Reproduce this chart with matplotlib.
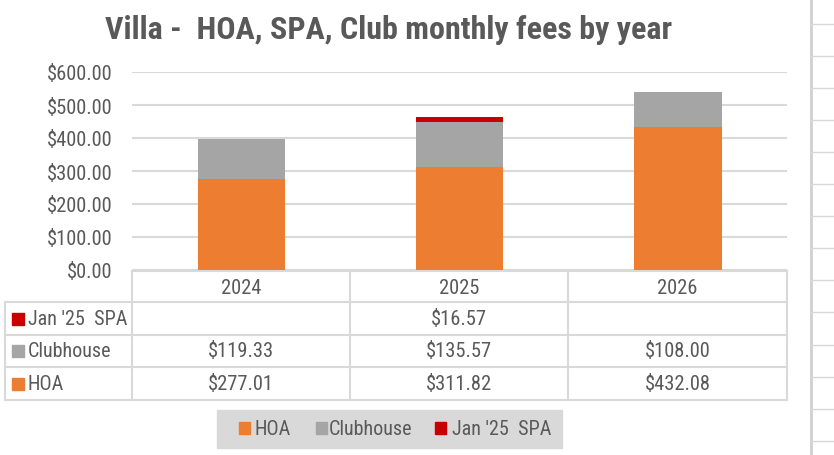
import matplotlib
matplotlib.use("Agg")
import matplotlib.pyplot as plt
from matplotlib.patches import Rectangle

plt.rcParams['font.family'] = ['Roboto Condensed', 'Lato', 'DejaVu Sans']

years = ['2024', '2025', '2026']
hoa = [277.01, 311.82, 432.08]
clubhouse = [119.33, 135.57, 108.00]
spa = [0, 16.57, 0]
spa_labels = ['', '$16.57', '']
club_labels = ['$119.33', '$135.57', '$108.00']
hoa_labels = ['$277.01', '$311.82', '$432.08']
series_names = ["Jan '25  SPA", 'Clubhouse', 'HOA']
yticks = [0, 100, 200, 300, 400, 500, 600]

ORANGE = '#ED7D31'
GRAY = '#A5A5A5'
RED = '#C80000'
TEXT = '#595959'
LINE = '#D9D9D9'
NUM_FS = 14.8
WORD_FS = 14.5

W, H = 834, 456
fig = plt.figure(figsize=(W / 100, H / 100), dpi=100)

# overlay in pixel coordinates for table, legend and sheet grid
ov = fig.add_axes([0, 0, 1, 1])
ov.set_xlim(0, W)
ov.set_ylim(H, 0)
ov.axis('off')

# plot area
left, right, top, bottom = 132, 787, 73, 271
ax = fig.add_axes([left / W, 1 - bottom / H, (right - left) / W, (bottom - top) / H])
x = range(len(years))
ax.bar(x, hoa, width=0.4, color=ORANGE, zorder=3)
ax.bar(x, clubhouse, width=0.4, bottom=hoa, color=GRAY, zorder=3)
base = [h + c for h, c in zip(hoa, clubhouse)]
ax.bar(x, spa, width=0.4, bottom=base, color=RED, zorder=3)
ax.set_xlim(-0.5, 2.5)
ax.set_ylim(0, 600)
ax.set_yticks(yticks)
ax.set_yticklabels([f'${v:,.2f}' for v in yticks], color=TEXT, fontsize=NUM_FS)
ax.tick_params(axis='y', length=0, pad=14)
ax.set_xticks([])
ax.grid(axis='y', color=LINE, lw=1.5, zorder=0)
for s in ax.spines.values():
    s.set_visible(False)
ax.patch.set_alpha(0)

# title
ov.text(389, 30, "Villa -  HOA, SPA, Club monthly fees by year", ha='center', va='center',
        fontsize=23, fontweight='bold', color=TEXT)

# data table
col_x = [132, 350, 568, 787]
row_y = [272, 303, 336, 368, 401]
tab_left = 5
lw_t = 1.5
ov.plot([col_x[0], col_x[-1]], [row_y[0], row_y[0]], color=LINE, lw=lw_t)
for yy in row_y[1:]:
    ov.plot([tab_left, col_x[-1]], [yy, yy], color=LINE, lw=lw_t)
for xx in col_x:
    ov.plot([xx, xx], [row_y[0], row_y[-1]], color=LINE, lw=lw_t)
ov.plot([tab_left, tab_left], [row_y[1], row_y[-1]], color=LINE, lw=lw_t)

centers = [(col_x[i] + col_x[i + 1]) / 2 for i in range(3)]
for cx, yr in zip(centers, years):
    ov.text(cx, (row_y[0] + row_y[1]) / 2 + 1, yr, ha='center', va='center', fontsize=NUM_FS, color=TEXT)

rows = [spa_labels, club_labels, hoa_labels]
colors = [RED, GRAY, ORANGE]
for r, (vals, name, c) in enumerate(zip(rows, series_names, colors)):
    yc = (row_y[r + 1] + row_y[r + 2]) / 2
    ov.add_patch(Rectangle((12, yc - 6), 12, 12, color=c))
    ov.text(28, yc, name, ha='left', va='center', fontsize=WORD_FS, color=TEXT)
    for cx, v in zip(centers, vals):
        ov.text(cx, yc, v, ha='center', va='center', fontsize=NUM_FS, color=TEXT)

# legend
ov.add_patch(Rectangle((217, 411), 345, 38, color='#D9D9D9'))
leg_items = [(239, 255, 'HOA', ORANGE), (316, 329, 'Clubhouse', GRAY), (435, 452, "Jan '25  SPA", RED)]
for sx, tx, name, c in leg_items:
    ov.add_patch(Rectangle((sx, 423.5), 11, 12, color=c))
    ov.text(tx, 430, name, ha='left', va='center', fontsize=WORD_FS, color=TEXT)

# spreadsheet grid at the right edge
ov.plot([811, 811], [0, H], color='#D0D0D0', lw=2)
for k in range(14):
    yy = 25 + 32.05 * k
    ov.plot([811, W], [yy, yy], color='#D8D8D8', lw=1)

fig.savefig('out.png', dpi=100, facecolor='white')
